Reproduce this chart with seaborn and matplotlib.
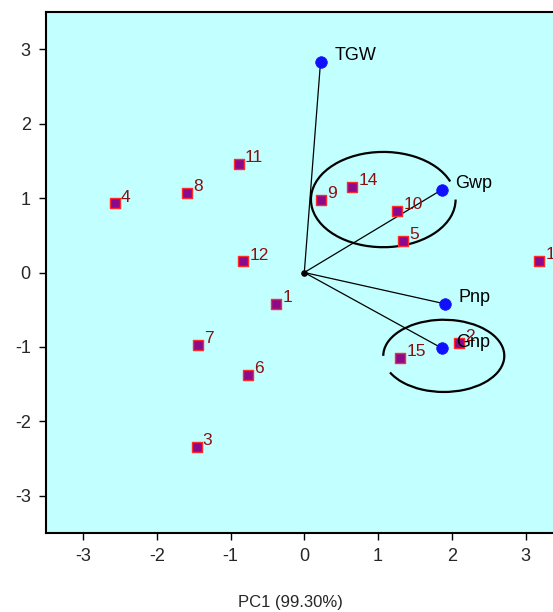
import matplotlib
matplotlib.use("Agg")
import matplotlib.pyplot as plt
import seaborn as sns
import pandas as pd
from matplotlib.patches import Arc

# Genotype scores
geno_labels = ["1", "2", "3", "4", "5", "6", "7", "8", "9", "10", "11", "12", "13", "14", "15"]
geno_pc1 = [-0.38, 2.10, -1.46, -2.57, 1.34, -0.76, -1.44, -1.59, 0.22, 1.26, -0.89, -0.83, 3.18, 0.65, 1.30]
geno_pc2 = [-0.42, -0.95, -2.34, 0.93, 0.42, -1.38, -0.97, 1.07, 0.98, 0.83, 1.46, 0.15, 0.16, 1.15, -1.15]

# Trait vectors
trait_labels = ["TGW", "Gwp", "Pnp", "Gnp"]
trait_pc1 = [0.22, 1.86, 1.90, 1.87]
trait_pc2 = [2.83, 1.11, -0.42, -1.02]

# Ellipses: center x, center y, width, height, arc start, arc end (deg)
ell_cx = [1.07, 1.89]
ell_cy = [0.98, -1.12]
ell_w = [1.96, 1.64]
ell_h = [1.28, 0.97]
ell_t1 = [15, 197]
ell_t2 = [360, 540]

x_label = "PC1 (99.30%)"

sns.set_style("ticks")
plt.rcParams["font.family"] = ["Liberation Sans", "DejaVu Sans"]
plt.rcParams["axes.unicode_minus"] = False

fig = plt.figure(figsize=(5.53, 6.12), dpi=100)
ax = fig.add_axes([46 / 553, 79 / 612, 516.6 / 553, 521 / 612])
ax.set_facecolor("#C2FFFF")

geno = pd.DataFrame({"x": geno_pc1, "y": geno_pc2, "lab": geno_labels})
trait = pd.DataFrame({"x": trait_pc1, "y": trait_pc2, "lab": trait_labels})

# vectors
for tx, ty in zip(trait_pc1, trait_pc2):
    ax.plot([0, tx], [0, ty], color="black", lw=0.9, zorder=2)
ax.scatter([0], [0], s=14, color="black", zorder=3)

# ellipses
for cx, cy, w, h, t1, t2 in zip(ell_cx, ell_cy, ell_w, ell_h, ell_t1, ell_t2):
    ax.add_patch(Arc((cx, cy), w, h, theta1=t1, theta2=t2, color="black", lw=1.6, zorder=2))

sns.scatterplot(data=geno, x="x", y="y", marker="s", s=60, color="#8B0A8B",
                edgecolor="#FF2A2A", linewidth=1.0, ax=ax, zorder=4, legend=False)
sns.scatterplot(data=trait, x="x", y="y", marker="o", s=70, color="#1010FF",
                edgecolor="#1010FF", linewidth=0.5, ax=ax, zorder=4, legend=False)

for x, y, t in zip(geno_pc1, geno_pc2, geno_labels):
    ax.annotate(t, (x, y), xytext=(4.5, 4.5), textcoords="offset points",
                color="#8B1010", fontsize=12.5, va="center", ha="left", zorder=5)
for x, y, t in zip(trait_pc1, trait_pc2, trait_labels):
    ax.annotate(t, (x, y), xytext=(10, 4.5), textcoords="offset points",
                color="black", fontsize=13, va="center", ha="left", zorder=5)

ax.set_xlim(-3.5, 3.5)
ax.set_ylim(-3.5, 3.5)
ax.set_xticks([-3, -2, -1, 0, 1, 2, 3])
ax.set_yticks([-3, -2, -1, 0, 1, 2, 3])
ax.tick_params(direction="out", length=5, width=1, labelsize=13, pad=6, color="black")
for sp in ax.spines.values():
    sp.set_linewidth(1.5)
    sp.set_color("black")
    sp.set_visible(True)
ax.set_xlabel(x_label, fontsize=12, va="center")
ax.xaxis.set_label_coords(0.474, -0.133)
ax.set_ylabel("")

fig.savefig("out.png", dpi=100)
